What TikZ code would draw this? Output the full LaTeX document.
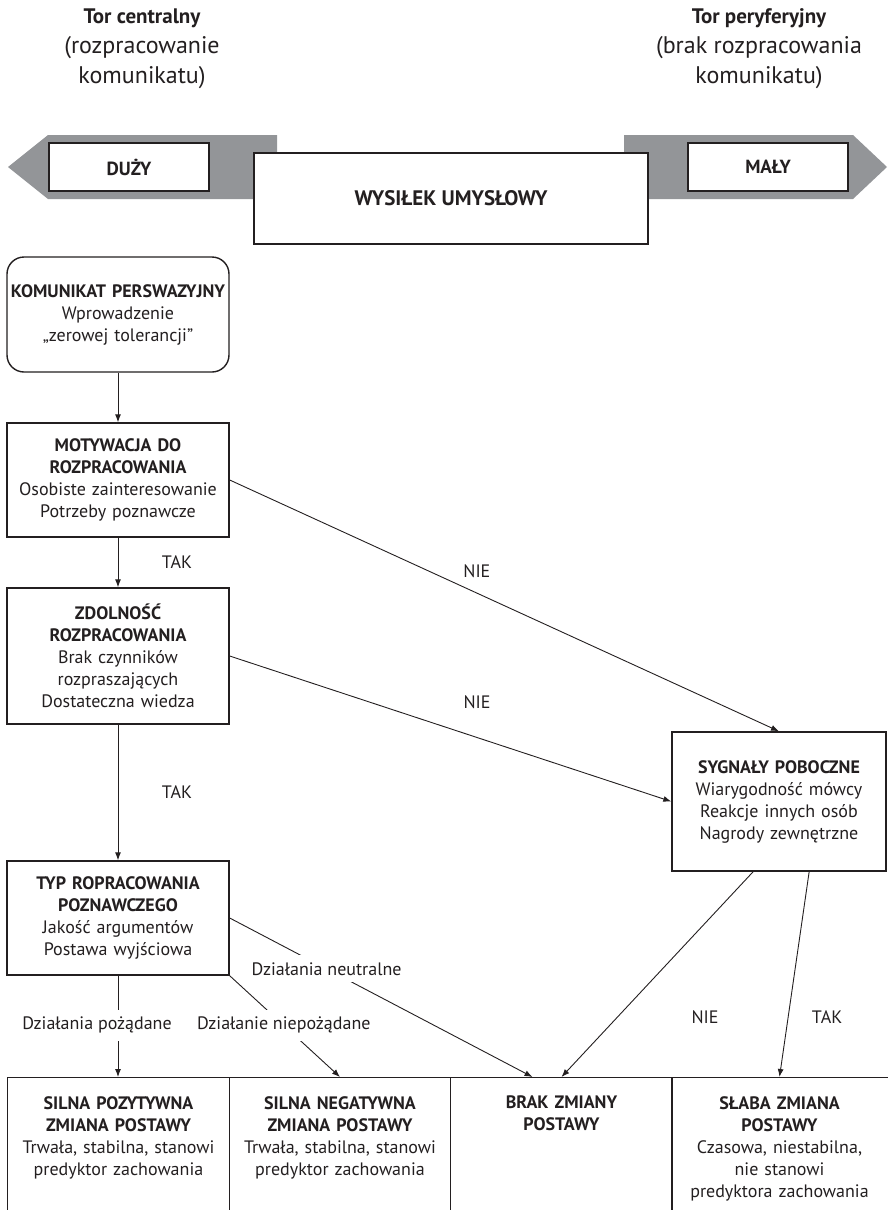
\documentclass[tikz,border=0pt]{standalone}
\usepackage{fontspec}
\setmainfont{PT Sans}
\usetikzlibrary{arrows.meta,calc}
\definecolor{ink}{HTML}{231F20}
\definecolor{band}{HTML}{939598}

\begin{document}
\begin{tikzpicture}[x=1pt, y=-1pt, every node/.style={font=\fontsize{18}{22}\selectfont, text=ink}, >={Latex[length=8pt,width=6pt]},
	box/.style={draw=ink, line width=1.4pt, fill=white, align=center, text width=216pt, minimum width=222pt, inner sep=0pt},
	effort/.style={draw=ink, line width=1.4pt, fill=white, minimum height=48pt, font=\fontsize{19}{22}\selectfont\bfseries},
	frame/.style={draw=ink, line width=1.2pt, minimum width=221.5pt, minimum height=140pt, anchor=north, inner sep=0pt},
	restext/.style={align=center, text width=214pt, anchor=north, inner sep=0pt},
	headtitle/.style={font=\fontsize{21}{30}\selectfont\bfseries, inner sep=0pt},
	headsub/.style={font=\fontsize{24}{30}\selectfont, align=center, inner sep=0pt},
	lab/.style={fill=white, inner sep=7pt}]
	\useasboundingbox (0,0) rectangle (887,1210);
	% pasek wysilku
	\fill[band] (8,167) -- (48,135) -- (277,135) -- (277,199) -- (48,199) -- cycle;
	\fill[band] (624,135) -- (853,135) -- (887,167) -- (853,199) -- (624,199) -- cycle;
	\node[effort, minimum width=160pt] (duzy) at (129,167) {DUŻY};
	\node[effort, minimum width=160pt] (maly) at (768,167) {MAŁY};
	\node[effort, minimum width=394pt, minimum height=91pt, font=\fontsize{21}{22}\selectfont\bfseries] (wys) at (451,198.5) {WYSIŁEK UMYSŁOWY};

	% naglowki
	\node[headtitle] (torC) at (142,18) {Tor centralny};
	\node[headsub] (torCsub) at (142,63) {(rozpracowanie\\komunikatu)};
	\node[headtitle] (torP) at (759,18) {Tor peryferyjny};
	\node[headsub] (torPsub) at (759,63) {(brak rozpracowania\\komunikatu)};

	% tor centralny
	\node[box, rounded corners=17pt, minimum height=115pt] (kom) at (118,314.5) {\textbf{KOMUNIKAT PERSWAZYJNY}\\Wprowadzenie\\„zerowej tolerancji”};
	\node[box, minimum height=114pt] (mot) at (118,480) {\textbf{MOTYWACJA DO}\\\textbf{ROZPRACOWANIA}\\Osobiste zainteresowanie\\Potrzeby poznawcze};
	\node[box, minimum height=136pt] (zdol) at (118,656) {\textbf{ZDOLNOŚĆ}\\\textbf{ROZPRACOWANIA}\\Brak czynników\\rozpraszających\\Dostateczna wiedza};
	\node[box, minimum height=114pt] (typ) at (118,918) {\textbf{TYP ROPRACOWANIA}\\\textbf{POZNAWCZEGO}\\Jakość argumentów\\Postawa wyjściowa};

	% tor peryferyjny
	\node[box, text width=205pt, minimum width=214pt, minimum height=139pt] (syg) at (779,801.5) {\textbf{SYGNAŁY POBOCZNE}\\Wiarygodność mówcy\\Reakcje innych osób\\Nagrody zewnętrzne};

	% wyniki
	\node[frame] (res1) at (118.5,1077) {};
	\node[frame] (res2) at (340,1077) {};
	\node[frame] (res3) at (561.5,1077) {};
	\node[frame, minimum width=230pt] (res4) at (787,1077) {};
	\node[restext] (res1t) at (118.5,1096) {\textbf{SILNA POZYTYWNA}\\\textbf{ZMIANA POSTAWY}\\Trwała, stabilna, stanowi\\predyktor zachowania};
	\node[restext] (res2t) at (340,1096) {\textbf{SILNA NEGATYWNA}\\\textbf{ZMIANA POSTAWY}\\Trwała, stabilna, stanowi\\predyktor zachowania};
	\node[restext] (res3t) at (561.5,1096) {\textbf{BRAK ZMIANY}\\\textbf{POSTAWY}};
	\node[restext] (res4t) at (779.5,1096) {\textbf{SŁABA ZMIANA}\\\textbf{POSTAWY}\\Czasowa, niestabilna,\\nie stanowi\\predyktora zachowania};

	% polaczenia
	\draw[->, ink, line width=0.9pt] (kom) -- (mot);
	\draw[->, ink, line width=0.9pt] (mot) -- node[xshift=59pt] {TAK} (zdol);
	\draw[->, ink, line width=0.9pt] (zdol) -- node[xshift=59pt] {TAK} (typ);
	\draw[->, ink, line width=0.9pt] (mot.east) -- node[pos=0.45, yshift=22pt] {NIE} (syg.north);
	\draw[->, ink, line width=0.9pt] (zdol.east) -- node[pos=0.56, yshift=35pt] {NIE} (syg.west);
	\draw[->, ink, line width=0.9pt] (typ.south) -- node[lab, pos=0.49, xshift=-21pt] {Działania pożądane} (typ.south |- res1.north);
	\draw[->, ink, line width=0.9pt] (typ.south east) -- node[lab, pos=0.49] {Działanie niepożądane} (res2.north);
	\draw[->, ink, line width=0.9pt] (typ.east) -- node[lab, pos=0.32] {Działania neutralne} ($(res3.north west)!0.37!(res3.north east)$);
	\draw[->, ink, line width=0.9pt] ($(syg.south west)!0.38!(syg.south east)$) -- node[pos=0.71, xshift=88pt] {NIE} (res3.north);
	\draw[->, ink, line width=0.9pt] ($(syg.south west)!0.64!(syg.south east)$) -- node[pos=0.71, xshift=39pt] {TAK} (res4t.north |- res4.north);
\end{tikzpicture}
\end{document}
